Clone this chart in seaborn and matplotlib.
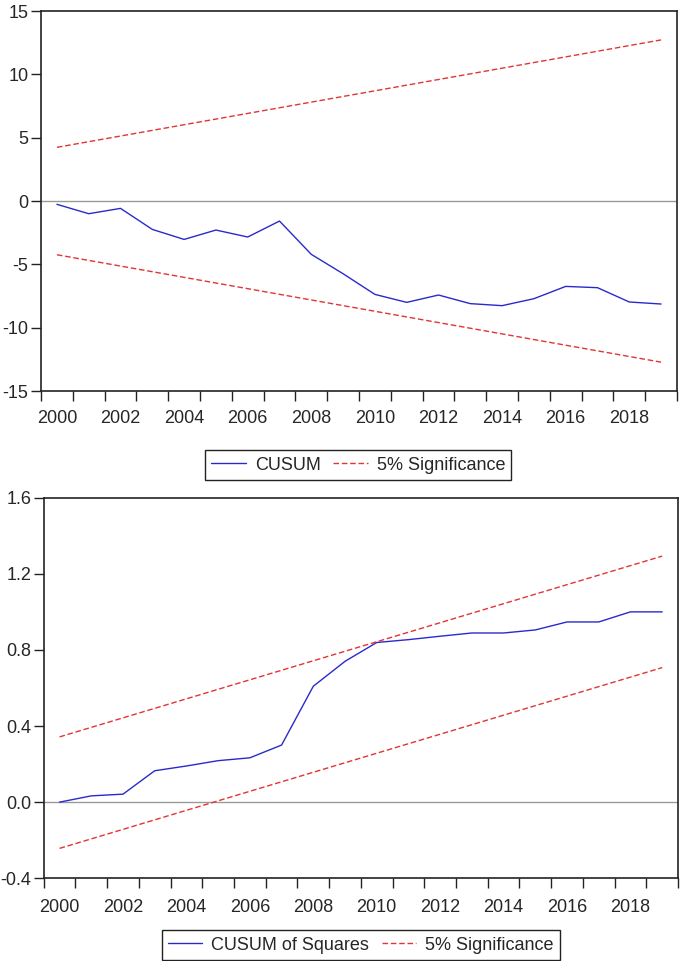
import numpy as np
import pandas as pd
import seaborn as sns
import matplotlib.pyplot as plt

sns.set_style("white")
plt.rcParams['font.family'] = ['Liberation Sans', 'DejaVu Sans']

years = list(range(2000, 2020))
cusum = [-0.26, -1.0, -0.58, -2.24, -3.03, -2.29, -2.84, -1.58, -4.21, -5.74,
         -7.37, -8.0, -7.42, -8.1, -8.26, -7.71, -6.74, -6.84, -7.97, -8.13]
cusum_upper = [4.24, 12.72]
cusum_lower = [-4.24, -12.72]

cusum_sq = [0.0, 0.033, 0.042, 0.165, 0.19, 0.218, 0.233, 0.30, 0.609, 0.74,
            0.839, 0.854, 0.872, 0.889, 0.889, 0.905, 0.947, 0.947, 1.0, 1.0]
sq_upper = [0.343, 1.293]
sq_lower = [-0.243, 0.707]
bound_years = [2000, 2019]

blue = "#2a2acc"
red = "#e03535"
fs = 13

fig = plt.figure(figsize=(6.85, 9.61), dpi=100)
ax1 = fig.add_axes([0.0599, 0.5931, 0.9284, 0.3954])
ax2 = fig.add_axes([0.0638, 0.0861, 0.926, 0.396])


def draw(ax, y, up, lo, name, ylim, yticks, ylabels, leg_x, leg_y, xpad):
    ax.axhline(0, color="#9a9a9a", lw=1.0, zorder=1)
    sns.lineplot(x=years, y=y, ax=ax, color=blue, lw=1.0, label=name)
    sns.lineplot(x=bound_years, y=up, ax=ax, color=red, lw=1.0,
                 linestyle=(0, (4, 2)), label="5% Significance")
    sns.lineplot(x=bound_years, y=lo, ax=ax, color=red, lw=1.0,
                 linestyle=(0, (4, 2)))
    ax.set_xlim(1999.5, 2019.5)
    ax.set_ylim(*ylim)
    ax.set_xticks(np.arange(1999.5, 2020, 1.0))
    ax.set_xticklabels([])
    ax.set_xticks(list(range(2000, 2019, 2)), minor=True)
    ax.set_xticklabels([str(v) for v in range(2000, 2019, 2)], minor=True)
    ax.set_yticks(yticks)
    ax.set_yticklabels(ylabels)
    ax.tick_params(axis="x", which="major", direction="out", length=7,
                   width=1.0, color="#222222", bottom=True)
    ax.tick_params(axis="x", which="minor", length=0, pad=xpad, labelsize=fs,
                   bottom=True)
    ax.tick_params(axis="y", direction="out", length=7, width=1.0,
                   color="#222222", labelsize=fs, left=True, pad=2)
    for s in ax.spines.values():
        s.set_color("#222222")
        s.set_linewidth(1.2)
    ax.set_xlabel("")
    ax.set_ylabel("")
    handles, labels = ax.get_legend_handles_labels()
    ax.legend(handles[:2], labels[:2], loc="center", ncol=2,
              bbox_to_anchor=(leg_x, leg_y), bbox_transform=fig.transFigure,
              fontsize=fs, frameon=True, fancybox=False, edgecolor="#222222",
              framealpha=1, handlelength=1.9, columnspacing=0.7,
              handletextpad=0.5, borderpad=0.35, borderaxespad=0)
    ax.get_legend().get_frame().set_linewidth(1.0)


draw(ax1, cusum, cusum_upper, cusum_lower, "CUSUM", (-15, 15),
     [-15, -10, -5, 0, 5, 10, 15], ["-15", "-10", "-5", "0", "5", "10", "15"],
     0.523, 0.5161, 14)
draw(ax2, cusum_sq, sq_upper, sq_lower, "CUSUM of Squares", (-0.4, 1.6),
     [-0.4, 0.0, 0.4, 0.8, 1.2, 1.6], ["-0.4", "0.0", "0.4", "0.8", "1.2", "1.6"],
     0.527, 0.0166, 15)

fig.savefig("out.png", dpi=100)
